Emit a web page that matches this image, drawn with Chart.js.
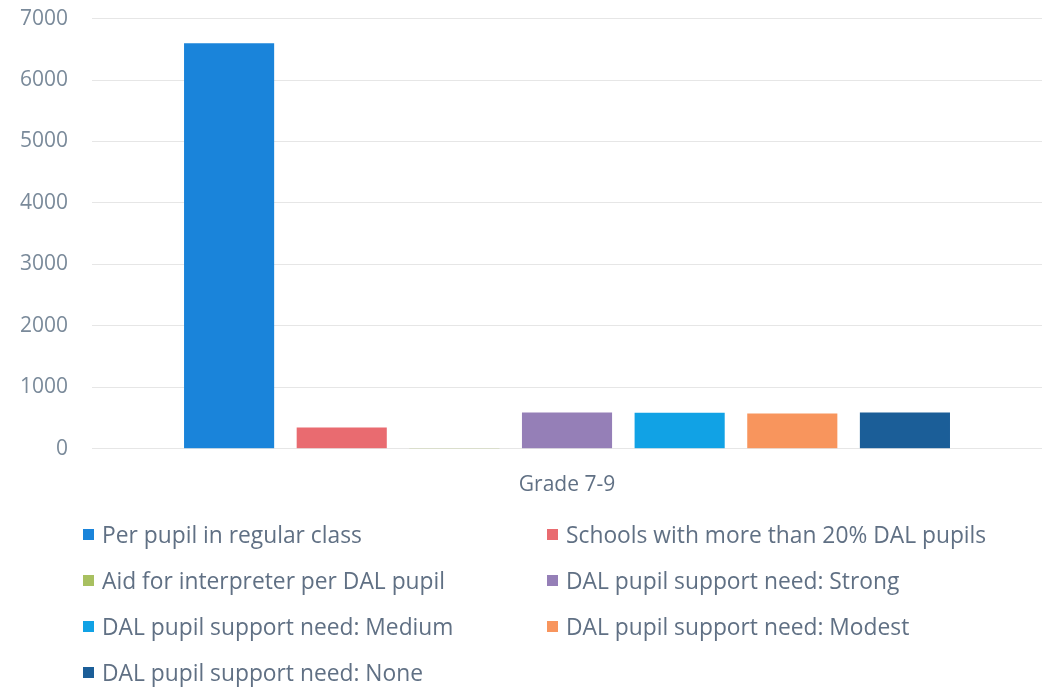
<!DOCTYPE html>
<html>
<head>
<meta charset="utf-8">
<script src="https://cdn.jsdelivr.net/npm/chart.js@4.4.1/dist/chart.umd.min.js"></script>
<style>
  html, body { margin: 0; padding: 0; background: #fff; }
  body { position: relative; width: 1042px; height: 688px; overflow: hidden; font-family: "Open Sans", "Noto Sans", sans-serif; }
  #wrap { position: absolute; left: -20px; top: -18px; width: 1062px; height: 532px; }
  #legend {
    position: absolute; left: 83px; top: 511px;
    display: grid; grid-template-columns: 464px 480px; row-gap: 0;
  }
  #legend .it { display: flex; align-items: center; height: 46px; font-size: 22.8px; color: #607084; white-space: nowrap; }
  #legend .box { width: 11px; height: 11px; margin-right: 8px; flex: none; }
</style>
</head>
<body>
<div id="wrap"><canvas id="c"></canvas></div>
<div id="legend"></div>
<script>
const categories = ["Grade 7-9"];
const seriesNames = [
  "Per pupil in regular class",
  "Schools with more than 20% DAL pupils",
  "Aid for interpreter per DAL pupil",
  "DAL pupil support need: Strong",
  "DAL pupil support need: Medium",
  "DAL pupil support need: Modest",
  "DAL pupil support need: None"
];
const seriesValues = [6600, 345, 15, 590, 585, 575, 590];
const seriesColors = ["#1a84da", "#e96b70", "#a8c060", "#957fb7", "#11a2e5", "#f8955d", "#1b5e98"];
const yTicks = [0, 1000, 2000, 3000, 4000, 5000, 6000, 7000];

const datasets = seriesNames.map((name, i) => ({
  label: name,
  data: [seriesValues[i]],
  backgroundColor: seriesColors[i],
  borderWidth: 0,
  barPercentage: 0.8,
  categoryPercentage: 0.83
}));

const chart = new Chart(document.getElementById("c"), {
  type: "bar",
  data: { labels: categories, datasets },
  options: {
    responsive: true,
    maintainAspectRatio: false,
    animation: false,
    layout: { padding: { top: 4, left: 16, right: 0, bottom: 0 } },
    plugins: { legend: { display: false }, tooltip: { enabled: false } },
    scales: {
      x: {
        grid: { display: false },
        border: { display: false },
        ticks: { color: "#607084", font: { family: "Open Sans", size: 21 }, padding: 16 }
      },
      y: {
        min: 0, max: 7000,
        afterBuildTicks: ax => { ax.ticks = yTicks.map(v => ({ value: v })); },
        grid: { color: "#e6e6e6", lineWidth: 1, drawTicks: false },
        border: { display: false },
        ticks: {
          color: "#7a8a9a", font: { family: "Open Sans", size: 21 }, padding: 24,
          callback: v => String(v)
        }
      }
    }
  }
});

// legend in two columns
const legend = document.getElementById("legend");
legend.innerHTML = chart.data.datasets.map(d => `
  <div class="it"><span class="box" style="background:${d.backgroundColor}"></span>${d.label}</div>
`).join("");
</script>
</body>
</html>
